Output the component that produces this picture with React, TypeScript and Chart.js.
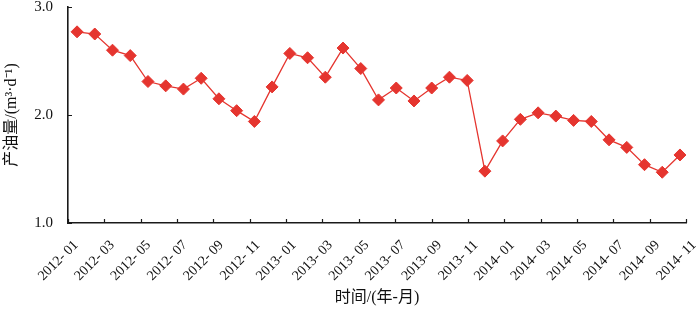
import React, { useEffect, useRef } from "react";
import { Chart, registerables } from "chart.js";

Chart.register(...registerables);

const months = [
  "2012-01", "2012-02", "2012-03", "2012-04", "2012-05", "2012-06", "2012-07",
  "2012-08", "2012-09", "2012-10", "2012-11", "2012-12",
  "2013-01", "2013-02", "2013-03", "2013-04", "2013-05", "2013-06", "2013-07",
  "2013-08", "2013-09", "2013-10", "2013-11", "2013-12",
  "2014-01", "2014-02", "2014-03", "2014-04", "2014-05", "2014-06", "2014-07",
  "2014-08", "2014-09", "2014-10", "2014-11",
];

const oilRate = [
  2.77, 2.75, 2.60, 2.55, 2.31, 2.27, 2.24, 2.34, 2.15, 2.04, 1.94, 2.26,
  2.57, 2.53, 2.35, 2.62, 2.43, 2.14, 2.25, 2.13, 2.25, 2.35, 2.32, 1.48,
  1.76, 1.96, 2.02, 1.99, 1.95, 1.94, 1.77, 1.70, 1.54, 1.47, 1.63,
];

const tickLabels = [
  "2012- 01", "2012- 03", "2012- 05", "2012- 07", "2012- 09", "2012- 11",
  "2013- 01", "2013- 03", "2013- 05", "2013- 07", "2013- 09", "2013- 11",
  "2014- 01", "2014- 03", "2014- 05", "2014- 07", "2014- 09", "2014- 11",
];

const yTicks = [1.0, 2.0, 3.0];
const xTitle = "时间/(年-月)";
const yTitle = "产油量/(m³·d⁻¹)";

// axis extent in month-index units (Excel-like offset of the reference)
const X_MIN = -0.51;
const X_MAX = 34.34;

const RED = "#e5352f";
const AXIS = "#1a1a1a";
const SERIF = "'Liberation Serif', 'Noto Sans CJK SC', serif";

const innerTicks = {
  id: "innerTicks",
  afterDraw(chart: any) {
    const { ctx, chartArea, scales } = chart;
    const xs = scales.x;
    const ys = scales.y;
    ctx.save();
    ctx.strokeStyle = AXIS;
    ctx.lineWidth = 1.2;
    ctx.beginPath();
    yTicks.forEach((v) => {
      const py = Math.round(ys.getPixelForValue(v)) + 0.5;
      ctx.moveTo(chartArea.left, py);
      ctx.lineTo(chartArea.left + 4, py);
    });
    xs.ticks.forEach((t: any) => {
      const px = Math.round(xs.getPixelForValue(t.value)) + 0.5;
      ctx.moveTo(px, chartArea.bottom);
      ctx.lineTo(px, chartArea.bottom - 4);
    });
    ctx.stroke();
    ctx.restore();
  },
};

export default function App() {
  const ref = useRef<HTMLCanvasElement>(null);

  useEffect(() => {
    document.body.style.margin = "0";
    const canvas = ref.current;
    if (!canvas) return;
    const chart = new Chart(canvas, {
      type: "line",
      data: {
        datasets: [
          {
            data: oilRate.map((v, i) => ({ x: i, y: v })),
            borderColor: RED,
            backgroundColor: RED,
            borderWidth: 1.3,
            pointStyle: "rectRot",
            pointRadius: 6,
            pointBorderWidth: 1,
            pointBorderColor: RED,
            pointBackgroundColor: RED,
            tension: 0,
          },
        ],
      },
      options: {
        animation: false,
        responsive: true,
        maintainAspectRatio: false,
        layout: { padding: { left: 0, right: 14, top: 0, bottom: 0 } },
        plugins: {
          legend: { display: false },
          tooltip: { enabled: false },
        },
        scales: {
          x: {
            type: "linear",
            min: X_MIN,
            max: X_MAX,
            grid: { display: false, drawTicks: false },
            border: { display: true, color: AXIS, width: 1.6 },
            afterBuildTicks: (s: any) => {
              const n = tickLabels.length - 1;
              s.ticks = tickLabels.map((_l, k) => ({
                value: X_MIN + (k * (X_MAX - X_MIN)) / n,
              }));
            },
            ticks: {
              autoSkip: false,
              maxRotation: 45,
              minRotation: 45,
              padding: 14,
              labelOffset: 8,
              color: "#111",
              font: { family: SERIF, size: 14 },
              callback: (_v: any, i: number) => tickLabels[i],
            },
            title: {
              display: true,
              text: xTitle,
              color: "#111",
              font: { family: SERIF, size: 16 },
              padding: { top: 0, bottom: 10 },
            },
            afterFit: (s: any) => {
              s.height = 94;
              s.paddingLeft = 0;
              s.paddingRight = 0;
            },
          },
          y: {
            min: 1,
            max: 3,
            grid: { display: false, drawTicks: false },
            border: { display: true, color: AXIS, width: 1.6 },
            afterBuildTicks: (s: any) => {
              s.ticks = yTicks.map((v) => ({ value: v }));
            },
            ticks: {
              padding: 15,
              color: "#111",
              font: { family: SERIF, size: 15 },
              callback: (v: any) => Number(v).toFixed(1),
            },
            title: {
              display: true,
              text: yTitle,
              color: "#111",
              font: { family: SERIF, size: 16 },
              padding: { top: 2, bottom: 0 },
            },
            afterFit: (s: any) => {
              s.width = 68;
              s.paddingTop = 7;
              s.paddingBottom = 7;
            },
          },
        },
      },
      plugins: [innerTicks],
    });
    return () => chart.destroy();
  }, []);

  return (
    <div style={{ width: 700, height: 317, position: "relative" }}>
      <canvas ref={ref} />
    </div>
  );
}
